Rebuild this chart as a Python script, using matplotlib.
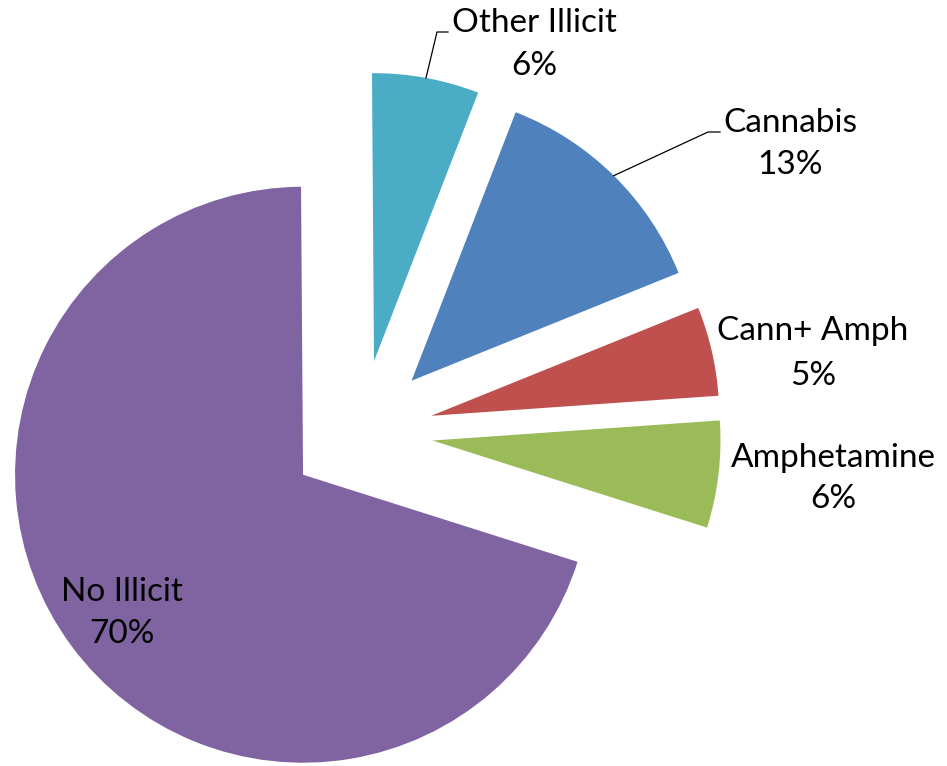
import numpy as np
import matplotlib.pyplot as plt

# share of each drug-use group (%)
categories = ['Cannabis', 'Cann+ Amph', 'Amphetamine', 'No Illicit', 'Other Illicit']
shares = [13, 5, 6, 70, 6]
colors = ['#4F81BD', '#C0504D', '#9BBB59', '#8064A2', '#4BACC6']

W, H = 947, 766
CX, CY, R = 361, 432, 288   # pie centre / radius in pixels


def px(x, y):
    # pixel position -> data units (radius 1)
    return (x - CX) / R, (CY - y) / R


plt.rcParams['font.family'] = ['Lato', 'DejaVu Sans']

fig = plt.figure(figsize=(W / 100, H / 100), dpi=100)
ax = fig.add_axes([0, 0, 1, 1])
wedges, _ = ax.pie(shares, colors=colors, explode=[0.25] * len(shares),
                   startangle=68.8, counterclock=False, radius=1,
                   wedgeprops=dict(linewidth=0))
ax.set_xlim(-CX / R, (W - CX) / R)
ax.set_ylim((CY - H) / R, CY / R)
ax.axis('off')

# label anchor: centre x, baseline of name, baseline of percentage
label_pos = {
    'Cannabis': (790, 132, 174),
    'Cann+ Amph': (813, 340, 385),
    'Amphetamine': (833, 467, 508),
    'No Illicit': (122, 601, 643),
    'Other Illicit': (534, 32, 75),
}
# leader lines: elbow and end point next to the label
leaders = {
    'Other Illicit': [(437, 32), (448, 32)],
    'Cannabis': [(708, 132), (720, 132)],
}

fs = 24
for w, name, val in zip(wedges, categories, shares):
    x, y1, y2 = label_pos[name]
    ax.text(*px(x, y1), name, ha='center', va='baseline', fontsize=fs, color='black')
    ax.text(*px(x, y2), f'{val}%', ha='center', va='baseline', fontsize=fs, color='black')
    if name in leaders:
        mid = np.deg2rad((w.theta1 + w.theta2) / 2)
        cx, cy = w.center
        xs = [cx + w.r * np.cos(mid)]
        ys = [cy + w.r * np.sin(mid)]
        for p in leaders[name]:
            lx, ly = px(*p)
            xs.append(lx)
            ys.append(ly)
        ax.plot(xs, ys, color='black', lw=0.9)

plt.savefig('out.png', dpi=100)
